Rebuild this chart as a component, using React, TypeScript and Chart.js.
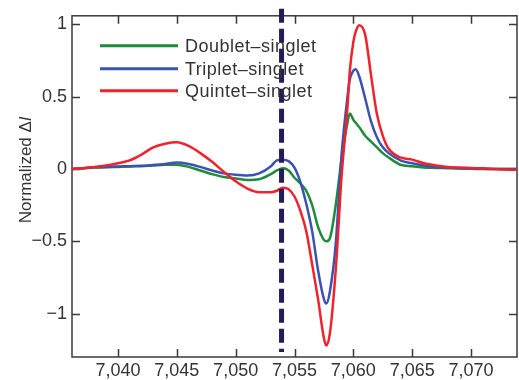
import { useEffect, useRef } from "react";
import { Chart, registerables } from "chart.js";

Chart.register(...registerables);

// Photon energy (eV)
const energy = [
  7036, 7037, 7038, 7039, 7040, 7041, 7042, 7043, 7044, 7045, 7046, 7047, 7048, 7049, 7050,
  7051, 7052, 7053, 7053.5, 7054, 7054.5, 7055, 7055.5, 7056, 7056.5, 7057, 7057.5, 7057.7,
  7058, 7058.5, 7059, 7059.5, 7059.7, 7060, 7060.2, 7060.5, 7061, 7061.5, 7062, 7062.5, 7063,
  7064, 7065, 7066, 7067, 7068, 7069, 7070, 7071, 7072, 7073, 7074,
];

const quintet = [
  0, 0.005, 0.015, 0.025, 0.04, 0.06, 0.1, 0.15, 0.175, 0.185, 0.16, 0.11, 0.05, -0.02, -0.085,
  -0.135, -0.16, -0.16, -0.15, -0.13, -0.14, -0.19, -0.29, -0.43, -0.66, -0.9, -1.17, -1.22,
  -1.14, -0.7, -0.05, 0.43, 0.68, 0.88, 0.95, 0.995, 0.93, 0.65, 0.38, 0.23, 0.14,
  0.08, 0.065, 0.04, 0.025, 0.015, 0.01, 0.008, 0.005, 0, -0.005, -0.005,
];

const triplet = [
  0, 0.005, 0.012, 0.015, 0.018, 0.02, 0.022, 0.028, 0.035, 0.045, 0.035, 0.015, -0.01, -0.03, -0.04,
  -0.045, -0.03, 0.02, 0.06, 0.065, 0.055, 0.01, -0.09, -0.24, -0.43, -0.7, -0.9, -0.93,
  -0.85, -0.52, 0.1, 0.5, 0.62, 0.68, 0.69, 0.64, 0.49, 0.33, 0.22, 0.15, 0.11,
  0.06, 0.04, 0.025, 0.015, 0.01, 0.005, 0.003, 0.002, 0, 0, 0,
];

const doublet = [
  0, 0.005, 0.01, 0.012, 0.015, 0.018, 0.02, 0.025, 0.03, 0.03, 0.015, -0.01, -0.035, -0.055, -0.065,
  -0.075, -0.07, -0.035, -0.01, 0.005, -0.01, -0.06, -0.1, -0.15, -0.25, -0.4, -0.49, -0.5,
  -0.48, -0.25, 0.07, 0.32, 0.385, 0.34, 0.32, 0.29, 0.23, 0.19, 0.15, 0.11, 0.08,
  0.03, 0.02, 0.01, 0.008, 0.005, 0.003, 0.002, 0, 0, 0, 0,
];

const seriesLabels = ["Doublet\u2013singlet", "Triplet\u2013singlet", "Quintet\u2013singlet"];
const seriesColors = ["#1f8a3c", "#3b52b2", "#f0222c"];

const xTicks = [7040, 7045, 7050, 7055, 7060, 7065, 7070];
const yTicks = [-1, -0.5, 0, 0.5, 1];
const yTickLabels = ["\u22121", "\u22120.5", "0", "0.5", "1"];
const markerEnergy = 7053.9;

const FONT = "'Liberation Sans', Arial, sans-serif";
const TEXT = "#333333";

const decorPlugin = {
  id: "decor",
  beforeDatasetsDraw(chart: any) {
    const { ctx, chartArea: a, scales } = chart;
    ctx.save();
    ctx.strokeStyle = "#3a3a3a";
    ctx.lineWidth = 1.5;
    ctx.strokeRect(a.left, a.top, a.right - a.left, a.bottom - a.top);
    const tl = 8;
    ctx.beginPath();
    for (const v of xTicks) {
      const px = Math.round(scales.x.getPixelForValue(v)) + 0.5;
      ctx.moveTo(px, a.bottom);
      ctx.lineTo(px, a.bottom - tl);
      ctx.moveTo(px, a.top);
      ctx.lineTo(px, a.top + tl);
    }
    for (const v of yTicks) {
      const py = Math.round(scales.y.getPixelForValue(v)) + 0.5;
      ctx.moveTo(a.left, py);
      ctx.lineTo(a.left + tl, py);
      ctx.moveTo(a.right, py);
      ctx.lineTo(a.right - tl, py);
    }
    ctx.stroke();
    ctx.restore();
  },
  afterDatasetsDraw(chart: any) {
    const { ctx, chartArea: a, scales } = chart;
    const px = scales.x.getPixelForValue(markerEnergy);
    ctx.save();
    ctx.strokeStyle = "#251b5a";
    ctx.lineWidth = 5;
    ctx.setLineDash([14, 6]);
    ctx.beginPath();
    ctx.moveTo(px, a.top - 7);
    ctx.lineTo(px, a.bottom - 5);
    ctx.stroke();
    ctx.restore();
  },
  afterDraw(chart: any) {
    const { ctx, chartArea: a } = chart;
    ctx.save();
    // legend
    const rows = [30, 53, 75];
    ctx.font = `18px ${FONT}`;
    (ctx as any).letterSpacing = "0.5px";
    ctx.textBaseline = "middle";
    ctx.textAlign = "left";
    for (let i = 0; i < 3; i++) {
      const y = a.top + rows[i];
      ctx.strokeStyle = seriesColors[i];
      ctx.lineWidth = 3;
      ctx.beginPath();
      ctx.moveTo(a.left + 28, y);
      ctx.lineTo(a.left + 106, y);
      ctx.stroke();
      ctx.fillStyle = TEXT;
      ctx.fillText(seriesLabels[i], a.left + 113, y + 1);
    }
    (ctx as any).letterSpacing = "0px";
    // y-axis title
    const normal = "Normalized \u0394";
    const ital = "I";
    ctx.font = `17px ${FONT}`;
    const w1 = ctx.measureText(normal).width;
    ctx.font = `italic 17px ${FONT}`;
    const w2 = ctx.measureText(ital).width;
    const total = w1 + w2;
    ctx.translate(26, a.top + 154);
    ctx.rotate(-Math.PI / 2);
    ctx.textBaseline = "middle";
    ctx.fillStyle = TEXT;
    ctx.font = `17px ${FONT}`;
    ctx.fillText(normal, -total / 2, 0);
    ctx.font = `italic 17px ${FONT}`;
    ctx.fillText(ital, -total / 2 + w1, 0);
    ctx.restore();
  },
};

export default function App() {
  const ref = useRef<HTMLCanvasElement>(null);
  useEffect(() => {
    document.body.style.margin = "0";
    const canvas = ref.current!;
    const sets = [doublet, triplet, quintet];
    const chart = new Chart(canvas, {
      type: "line",
      data: {
        datasets: sets.map((s, i) => ({
          label: seriesLabels[i],
          data: energy.map((x, j) => ({ x, y: s[j] })),
          borderColor: seriesColors[i],
          borderWidth: 2.5,
          pointRadius: 0,
          fill: false,
          cubicInterpolationMode: "monotone" as const,
          order: 3 - i,
        })),
      },
      options: {
        animation: false,
        responsive: false,
        maintainAspectRatio: false,
        layout: { padding: { left: 0, right: 2, top: 8, bottom: 0 } },
        plugins: { legend: { display: false }, tooltip: { enabled: false } },
        scales: {
          x: {
            type: "linear",
            min: 7036.1,
            max: 7073.9,
            afterBuildTicks: (s: any) => {
              s.ticks = xTicks.map((v) => ({ value: v }));
            },
            afterFit: (s: any) => {
              s.height = 23;
            },
            grid: { display: false, drawTicks: false },
            border: { display: false },
            ticks: {
              padding: 3,
              color: TEXT,
              font: { family: FONT, size: 18 },
              maxRotation: 0,
              autoSkip: false,
              callback: (v: any) => Number(v).toLocaleString("en-US"),
            },
          },
          y: {
            type: "linear",
            min: -1.3,
            max: 1.06,
            afterBuildTicks: (s: any) => {
              s.ticks = yTicks.map((v) => ({ value: v }));
            },
            afterFit: (s: any) => {
              s.width = 72;
            },
            grid: { display: false, drawTicks: false },
            border: { display: false },
            ticks: {
              padding: 5,
              color: TEXT,
              font: { family: FONT, size: 18 },
              autoSkip: false,
              callback: (v: any) => {
                const i = yTicks.indexOf(Number(v));
                return i >= 0 ? yTickLabels[i] : "";
              },
            },
          },
        },
      },
      plugins: [decorPlugin],
    });
    return () => chart.destroy();
  }, []);
  return (
    <canvas ref={ref} width={519} height={380} style={{ display: "block", width: 519, height: 380 }} />
  );
}
